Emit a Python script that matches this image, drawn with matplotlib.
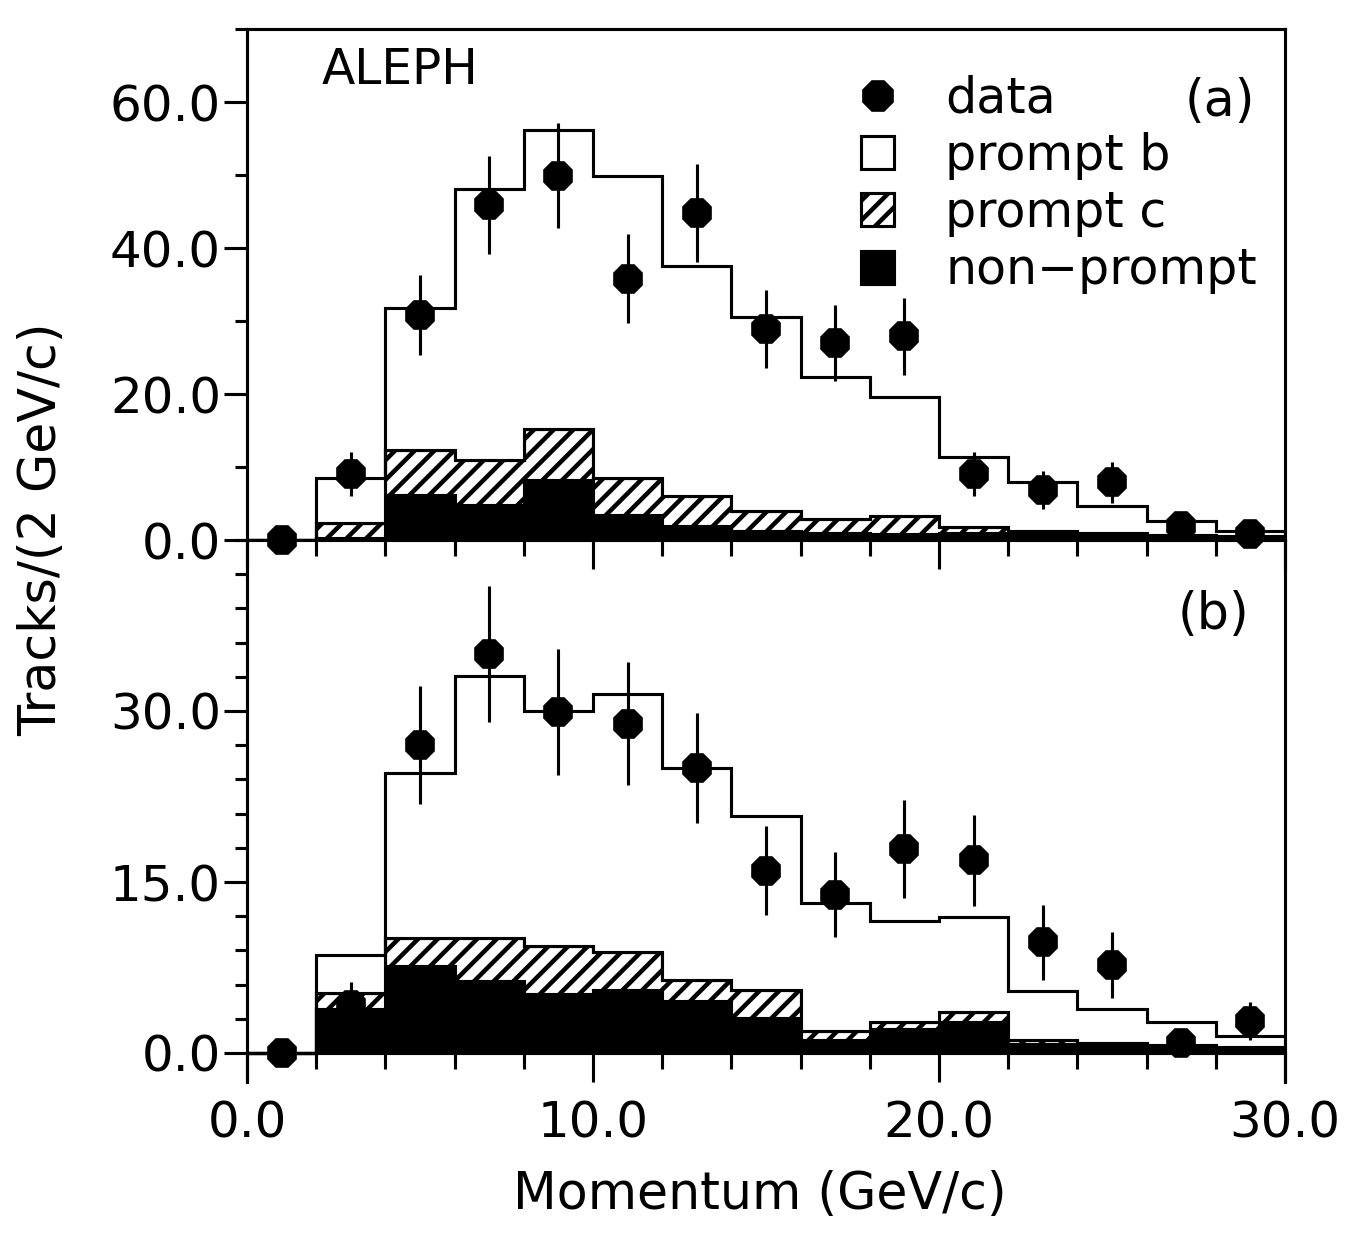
import matplotlib
matplotlib.use("Agg")
import matplotlib.pyplot as plt
from matplotlib.ticker import MultipleLocator, FixedLocator, FormatStrFormatter
from matplotlib.lines import Line2D
from matplotlib.patches import Patch
import numpy as np

# momentum bins (GeV/c), 2 GeV wide
edges = np.arange(0, 31, 2)
centers = edges[:-1] + 1

# panel (a)
data_a = [0.0, 9.0, 30.8, 45.9, 49.9, 35.8, 44.8, 28.9, 27.0, 27.9, 9.0, 6.8, 7.9, 1.9, 0.8]
err_a = [0.0, 3.0, 5.5, 6.7, 7.2, 6.1, 6.7, 5.4, 5.2, 5.3, 3.0, 2.6, 2.8, 1.3, 0.8]
nonprompt_a = [0, 0.3, 6.2, 4.8, 8.2, 3.4, 1.9, 1.2, 0.9, 0.8, 1.0, 0.9, 0.8, 0.6, 0.5]
promptc_a = [0, 2.0, 6.1, 6.1, 7.0, 5.1, 4.1, 2.8, 2.0, 2.5, 0.8, 0.4, 0.1, 0.1, 0.0]
promptb_a = [0, 6.2, 19.5, 37.2, 41.0, 41.3, 31.5, 26.5, 19.4, 16.3, 9.6, 6.6, 3.7, 1.9, 0.7]

# panel (b)
data_b = [0.0, 4.2, 27.0, 35.0, 29.9, 28.9, 25.0, 16.0, 13.9, 17.9, 16.9, 9.7, 7.7, 0.9, 2.8]
err_b = [0.0, 2.0, 5.2, 6.0, 5.5, 5.4, 4.8, 3.9, 3.7, 4.3, 4.0, 3.3, 2.9, 1.0, 1.7]
nonprompt_b = [0, 3.9, 7.6, 6.3, 5.2, 5.5, 4.6, 3.1, 1.1, 2.1, 2.7, 0.8, 0.7, 0.6, 0.4]
promptc_b = [0, 1.4, 2.5, 3.8, 4.2, 3.4, 1.8, 2.4, 0.8, 0.6, 0.9, 0.3, 0.2, 0.1, 0.1]
promptb_b = [0, 3.3, 14.5, 23.0, 20.6, 22.6, 18.6, 15.3, 11.3, 8.9, 8.3, 4.3, 3.0, 2.0, 1.0]

W, H, DPI = 1355, 1237, 118


def P(px):
    # pixels -> points at the output dpi
    return px * 72.0 / DPI


plt.rcParams["hatch.linewidth"] = P(4.5)
plt.rcParams["font.family"] = "DejaVu Sans"

fig = plt.figure(figsize=(W / DPI, H / DPI), dpi=DPI)

left = 247 / W
width = (1285 - 247) / W
ax_a = fig.add_axes([left, 1 - 540 / H, width, 511 / H])
ax_b = fig.add_axes([left, 1 - 1081.5 / H, width, 541.5 / H])

lw = P(3.1)


def draw_panel(ax, nonprompt, promptc, promptb, data, err):
    npv = np.array(nonprompt)
    ctop = npv + np.array(promptc)
    total = ctop + np.array(promptb)
    ax.stairs(npv, edges, baseline=0, fill=True, facecolor="black",
              edgecolor="black", lw=lw, zorder=2)
    ax.stairs(ctop, edges, baseline=npv, fill=True, facecolor="white",
              edgecolor="black", hatch="//", lw=lw, zorder=2)
    ax.stairs(total, edges, baseline=ctop, fill=True, facecolor="white",
              edgecolor="black", lw=lw, zorder=2)
    ax.errorbar(centers, data, yerr=err, fmt="8", ms=P(31), color="black",
                elinewidth=lw, capsize=0, clip_on=False, zorder=5)
    ax.set_xlim(0, 30)
    ax.patch.set_visible(False)
    for s in ax.spines.values():
        s.set_linewidth(lw)
    ax.xaxis.set_major_locator(MultipleLocator(10))
    ax.xaxis.set_minor_locator(MultipleLocator(2))
    ax.xaxis.set_major_formatter(FormatStrFormatter("%.1f"))
    ax.yaxis.set_major_formatter(FormatStrFormatter("%.1f"))
    ax.tick_params(axis="x", which="major", direction="out", length=P(29), width=lw,
                   pad=P(17), labelsize=P(50), top=False)
    ax.tick_params(axis="x", which="minor", direction="out", length=P(16), width=lw, top=False)
    ax.tick_params(axis="y", which="major", direction="out", length=P(23), width=lw,
                   pad=P(3), labelsize=P(50), right=False)
    ax.tick_params(axis="y", which="minor", direction="out", length=P(12), width=lw, right=False)


draw_panel(ax_a, nonprompt_a, promptc_a, promptb_a, data_a, err_a)
ax_a.set_ylim(0, 70)
ax_a.yaxis.set_major_locator(FixedLocator([0, 20, 40, 60]))
ax_a.yaxis.set_minor_locator(MultipleLocator(10))
ax_a.tick_params(axis="x", labelbottom=False)

draw_panel(ax_b, nonprompt_b, promptc_b, promptb_b, data_b, err_b)
ax_b.set_ylim(-2.5, 45)
ax_b.spines["bottom"].set_position(("data", 0))
ax_b.spines["top"].set_visible(False)
ax_b.yaxis.set_major_locator(FixedLocator([0, 15, 30]))
ax_b.yaxis.set_minor_locator(MultipleLocator(3))

ax_a.text(0.072, 0.92, "ALEPH", transform=ax_a.transAxes, fontsize=P(48.6),
          ha="left", va="center")
ax_a.text(0.971, 0.857, "(a)", transform=ax_a.transAxes, fontsize=P(50.6),
          ha="right", va="center")
ax_b.text(0.966, 0.861, "(b)", transform=ax_b.transAxes, fontsize=P(50.6),
          ha="right", va="center")

handles = [
    Line2D([], [], marker="8", ms=P(33), color="black", ls="none"),
    Patch(facecolor="white", edgecolor="black", lw=lw),
    Patch(facecolor="white", edgecolor="black", hatch="//", lw=lw),
    Patch(facecolor="black", edgecolor="black", lw=lw),
]
labels = ["data", "prompt b", "prompt c", "non\u2212prompt"]
ax_a.legend(handles, labels, loc="upper left", bbox_to_anchor=(0.592, 0.911),
            frameon=False, fontsize=P(49), borderpad=0, borderaxespad=0,
            handlelength=0.66, handleheight=0.66, handletextpad=1.05,
            labelspacing=0.19)

fig.text(42 / W, 1 - 529 / H, "Tracks/(2 GeV/c)", rotation=90, fontsize=P(50.6),
         ha="center", va="center")
fig.text(760 / W, 1 - 1195 / H, "Momentum (GeV/c)", fontsize=P(50.6),
         ha="center", va="center")

fig.savefig("out.png", dpi=DPI)
